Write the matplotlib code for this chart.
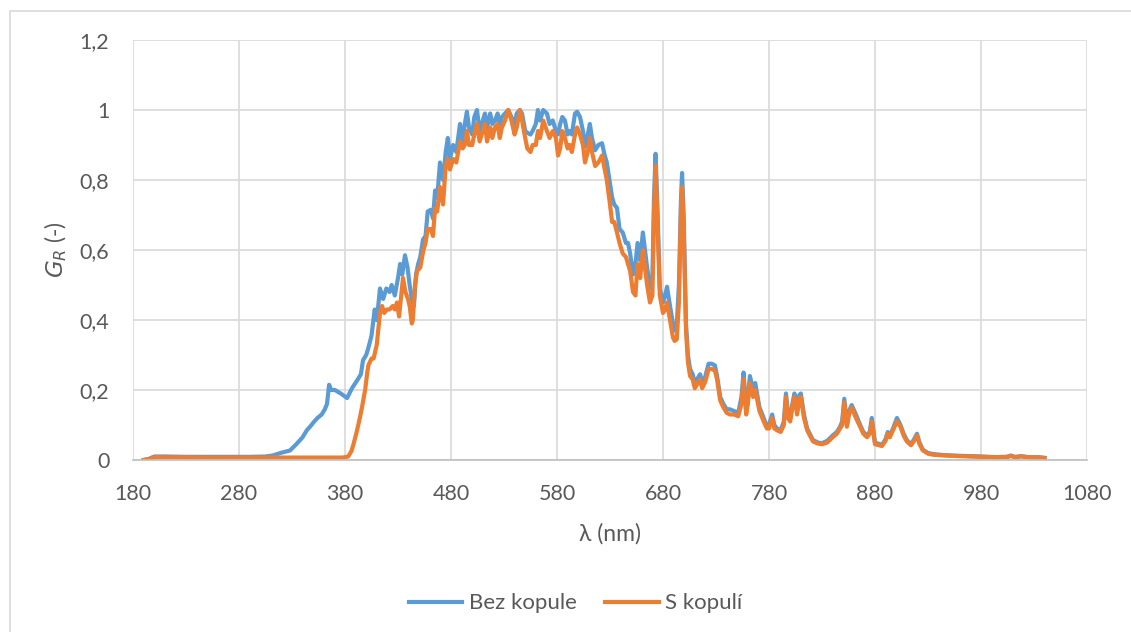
import numpy as np
import matplotlib.pyplot as plt
from matplotlib.patches import Rectangle
from matplotlib.ticker import FuncFormatter

# data (wavelength nm, G_R)
bez_nm = [190, 195, 200, 210, 230, 250, 270, 290, 305, 312, 319, 328, 334, 340, 344, 347, 351, 354, 358, 361,
          363, 365, 367, 370.5, 376, 382, 386.6, 392, 395, 397, 400, 402, 405, 408, 410, 413, 416, 419, 422, 424,
          427, 430, 432, 434, 436.6, 439, 441, 443, 445, 447, 449, 451, 453.6, 456, 458, 461, 463, 465, 467, 469.6,
          472.5, 475, 477, 479, 482, 485, 488.5, 491, 493, 495, 497, 500, 502, 504.5, 507, 509, 512, 514, 517, 519,
          521.5, 524, 526, 528, 531, 534, 537, 540, 542, 545, 547, 550, 552, 555, 557, 560, 562, 564, 567, 570.5,
          573, 576, 579, 581, 583, 585, 587.5, 590, 592, 594, 597, 599, 601.7, 604.5, 606.4, 609, 611, 613, 616, 619,
          622.5, 625, 627, 630, 632, 634, 636.6, 639, 642, 645, 647, 649, 651.7, 654, 656, 658.5, 661, 663, 665, 667.7,
          670, 671.5, 673, 675, 677, 680, 682, 683.8, 686.6, 689.4, 691, 693, 695, 697, 698, 699.5, 701.7, 703.5, 705.5, 708,
          710, 713, 715, 717, 720, 723, 726, 729, 731, 734, 737, 740, 743, 747, 751, 754, 756, 758.5, 760, 762,
          765, 767, 771, 775, 778, 780, 783, 785, 787.5, 791, 794, 796, 798, 800, 802, 804, 806.5, 808.5, 810, 813,
          816, 821.5, 826, 830, 835, 840, 844, 847, 849, 851, 853.5, 855.5, 858, 862, 866, 869, 872.5, 875, 877, 880,
          886.6, 890, 892, 894, 897, 900.7, 904, 907, 910, 914, 917, 919.6, 922, 925, 930, 935, 945, 960, 980, 995,
          1000, 1005, 1008, 1012, 1018, 1025, 1035, 1040]
bez_val = [0.0, 0.003, 0.01, 0.01, 0.009, 0.009, 0.009, 0.009, 0.01, 0.013, 0.02, 0.027, 0.045, 0.065, 0.085, 0.095, 0.11, 0.12, 0.13, 0.145,
           0.16, 0.215, 0.2, 0.2, 0.19, 0.177, 0.205, 0.23, 0.245, 0.285, 0.3, 0.32, 0.355, 0.43, 0.4, 0.49, 0.46, 0.49, 0.48, 0.5,
           0.47, 0.52, 0.56, 0.53, 0.585, 0.55, 0.5, 0.46, 0.44, 0.53, 0.56, 0.58, 0.63, 0.64, 0.71, 0.715, 0.69, 0.77, 0.75, 0.85,
           0.8, 0.88, 0.92, 0.86, 0.9, 0.88, 0.96, 0.91, 0.96, 0.995, 0.95, 0.93, 0.98, 1.0, 0.94, 0.96, 0.99, 0.95, 0.99, 0.96,
           0.97, 0.99, 0.95, 0.98, 0.99, 1.0, 0.98, 0.96, 0.99, 1.0, 0.99, 0.94, 0.935, 0.93, 0.94, 0.96, 1.0, 0.97, 1.0, 0.99,
           0.96, 0.97, 0.94, 0.93, 0.96, 0.98, 0.97, 0.93, 0.94, 0.93, 0.99, 0.995, 0.98, 0.94, 0.895, 0.93, 0.96, 0.92, 0.885, 0.9,
           0.905, 0.87, 0.85, 0.79, 0.75, 0.73, 0.72, 0.66, 0.65, 0.62, 0.62, 0.59, 0.53, 0.56, 0.62, 0.57, 0.65, 0.6, 0.55, 0.49,
           0.52, 0.75, 0.875, 0.7, 0.49, 0.45, 0.47, 0.495, 0.44, 0.39, 0.37, 0.385, 0.5, 0.75, 0.82, 0.7, 0.39, 0.3, 0.26, 0.245,
           0.22, 0.235, 0.245, 0.22, 0.24, 0.275, 0.275, 0.27, 0.24, 0.18, 0.16, 0.145, 0.145, 0.14, 0.135, 0.18, 0.25, 0.14, 0.175, 0.24,
           0.2, 0.22, 0.15, 0.12, 0.095, 0.1, 0.13, 0.1, 0.09, 0.085, 0.11, 0.19, 0.13, 0.12, 0.16, 0.19, 0.14, 0.185, 0.19, 0.13,
           0.09, 0.057, 0.05, 0.048, 0.055, 0.07, 0.08, 0.095, 0.11, 0.175, 0.1, 0.14, 0.157, 0.13, 0.1, 0.08, 0.07, 0.08, 0.12, 0.05,
           0.043, 0.06, 0.08, 0.07, 0.09, 0.12, 0.1, 0.075, 0.057, 0.045, 0.06, 0.075, 0.05, 0.03, 0.02, 0.017, 0.014, 0.012, 0.01, 0.008,
           0.009, 0.008, 0.013, 0.009, 0.011, 0.008, 0.008, 0.006]

s_nm = [190, 195, 200, 210, 250, 300, 350, 378, 383, 386, 388, 391, 394, 396, 399, 401, 402, 405, 407, 410,
        411, 413, 415, 417, 419.6, 422, 425, 427, 429, 431, 433, 434.7, 437, 439.4, 441, 443, 444, 446, 448, 451,
        454, 456, 458, 461, 463, 465, 467, 469.6, 472.5, 475, 477, 479, 482, 485, 488.5, 491, 493, 495, 497, 500,
        502, 504.5, 507, 509, 512, 514, 517, 519, 521.5, 524, 526, 528, 531, 534, 537, 540, 542, 545, 547, 550,
        552, 555, 557, 560, 562, 564, 567, 570.5, 573, 576, 579, 581, 583, 585, 587.5, 590, 592, 594, 597, 599,
        601.7, 604.5, 606.4, 609, 611, 613, 616, 619, 622.5, 625, 627, 630, 632, 634, 636.6, 639, 642, 645, 647, 649,
        651.7, 654, 656, 658.5, 661, 663, 665, 667.7, 670, 671.5, 673, 675, 677, 680, 682, 683.8, 686.6, 689.4, 691, 693,
        695, 697, 698, 699.5, 701.7, 703.5, 705.5, 708, 710, 713, 715, 717, 720, 723, 726, 729, 731, 734, 737, 740,
        743, 747, 751, 754, 756, 758.5, 760, 762, 765, 767, 771, 775, 778, 780, 783, 785, 787.5, 791, 794, 796,
        798, 800, 802, 804, 806.5, 808.5, 810, 813, 816, 821.5, 826, 830, 835, 840, 844, 847, 849, 851, 853.5, 855.5,
        858, 862, 866, 869, 872.5, 875, 877, 880, 886.6, 890, 892, 894, 897, 900.7, 904, 907, 910, 914, 917, 919.6,
        922, 925, 930, 935, 945, 960, 980, 995, 1000, 1008, 1012, 1018, 1025, 1035, 1040]
s_val = [0.0, 0.003, 0.008, 0.008, 0.007, 0.007, 0.007, 0.007, 0.01, 0.025, 0.045, 0.08, 0.12, 0.15, 0.2, 0.25, 0.27, 0.29, 0.29, 0.33,
         0.36, 0.42, 0.44, 0.42, 0.43, 0.43, 0.44, 0.43, 0.45, 0.41, 0.47, 0.52, 0.48, 0.46, 0.44, 0.39, 0.4, 0.5, 0.54, 0.55,
         0.6, 0.62, 0.66, 0.66, 0.64, 0.72, 0.71, 0.78, 0.73, 0.84, 0.86, 0.83, 0.86, 0.85, 0.91, 0.89, 0.9, 0.94, 0.9, 0.9,
         0.93, 0.96, 0.91, 0.93, 0.96, 0.91, 0.95, 0.92, 0.95, 0.96, 0.92, 0.95, 0.97, 1.0, 0.97, 0.93, 0.95, 1.0, 0.97, 0.92,
         0.89, 0.88, 0.9, 0.9, 0.94, 0.92, 0.97, 0.94, 0.92, 0.94, 0.92, 0.87, 0.89, 0.94, 0.92, 0.89, 0.9, 0.88, 0.93, 0.95,
         0.93, 0.9, 0.85, 0.88, 0.92, 0.88, 0.84, 0.85, 0.87, 0.83, 0.8, 0.73, 0.68, 0.68, 0.65, 0.62, 0.59, 0.58, 0.56, 0.54,
         0.48, 0.47, 0.56, 0.52, 0.6, 0.55, 0.5, 0.45, 0.47, 0.7, 0.84, 0.66, 0.47, 0.42, 0.43, 0.45, 0.4, 0.35, 0.34, 0.345,
         0.45, 0.72, 0.78, 0.66, 0.37, 0.28, 0.24, 0.23, 0.205, 0.22, 0.23, 0.205, 0.225, 0.26, 0.26, 0.255, 0.23, 0.17, 0.15, 0.135,
         0.13, 0.13, 0.125, 0.16, 0.23, 0.13, 0.16, 0.22, 0.18, 0.2, 0.14, 0.11, 0.09, 0.09, 0.12, 0.09, 0.085, 0.08, 0.1, 0.18,
         0.12, 0.11, 0.15, 0.18, 0.13, 0.17, 0.18, 0.12, 0.085, 0.053, 0.047, 0.045, 0.05, 0.065, 0.075, 0.09, 0.1, 0.165, 0.095, 0.13,
         0.15, 0.12, 0.095, 0.075, 0.065, 0.075, 0.11, 0.045, 0.04, 0.055, 0.075, 0.065, 0.085, 0.11, 0.095, 0.07, 0.053, 0.042, 0.055, 0.07,
         0.045, 0.028, 0.018, 0.015, 0.013, 0.011, 0.009, 0.008, 0.008, 0.011, 0.008, 0.01, 0.008, 0.007, 0.006]

x_ticks = np.arange(180, 1081, 100)
y_ticks = np.arange(0, 1.21, 0.2)

plt.rcParams['font.family'] = ['Lato', 'DejaVu Sans']
txt = '#595959'

fig = plt.figure(figsize=(11.31, 6.32), dpi=100)
# outer chart frame
fig.patches.append(Rectangle((10 / 1131, -0.1), 1.2, 1 - 11 / 632 + 0.1, transform=fig.transFigure,
                             fill=False, edgecolor='#d9d9d9', lw=1.2))
ax = fig.add_axes([133 / 1131, 1 - 460 / 632, 954 / 1131, 420 / 632])

ax.plot(bez_nm, bez_val, color='#5B9BD5', lw=3, label='Bez kopule', solid_joinstyle='round')
ax.plot(s_nm, s_val, color='#ED7D31', lw=3, label='S kopulí', solid_joinstyle='round')

ax.set_xlim(180, 1080)
ax.set_ylim(0, 1.2)
ax.set_xticks(x_ticks)
ax.set_yticks(y_ticks)
ax.yaxis.set_major_formatter(FuncFormatter(lambda v, p: ('%g' % round(v, 1)).replace('.', ',')))
ax.grid(True, color='#d9d9d9', lw=1.2)
ax.set_axisbelow(True)
for s in ['top', 'right', 'left']:
    ax.spines[s].set_visible(False)
ax.spines['bottom'].set_color('#bfbfbf')
ax.spines['bottom'].set_linewidth(1.2)
ax.tick_params(length=0, labelsize=15.5, colors=txt)
ax.tick_params(axis='x', pad=17)
ax.tick_params(axis='y', pad=17)

ax.set_xlabel('λ (nm)', fontsize=16.5, color=txt, labelpad=14)
ax.set_ylabel('$G_R$ (-)', fontsize=16.5, color=txt, labelpad=8)

leg = ax.legend(loc='upper center', bbox_to_anchor=(0.464, -0.27), ncol=2, frameon=False,
                fontsize=16, handlelength=2.4, columnspacing=1.3, handletextpad=0.3)
for t in leg.get_texts():
    t.set_color(txt)

fig.savefig('out.png', dpi=100)
